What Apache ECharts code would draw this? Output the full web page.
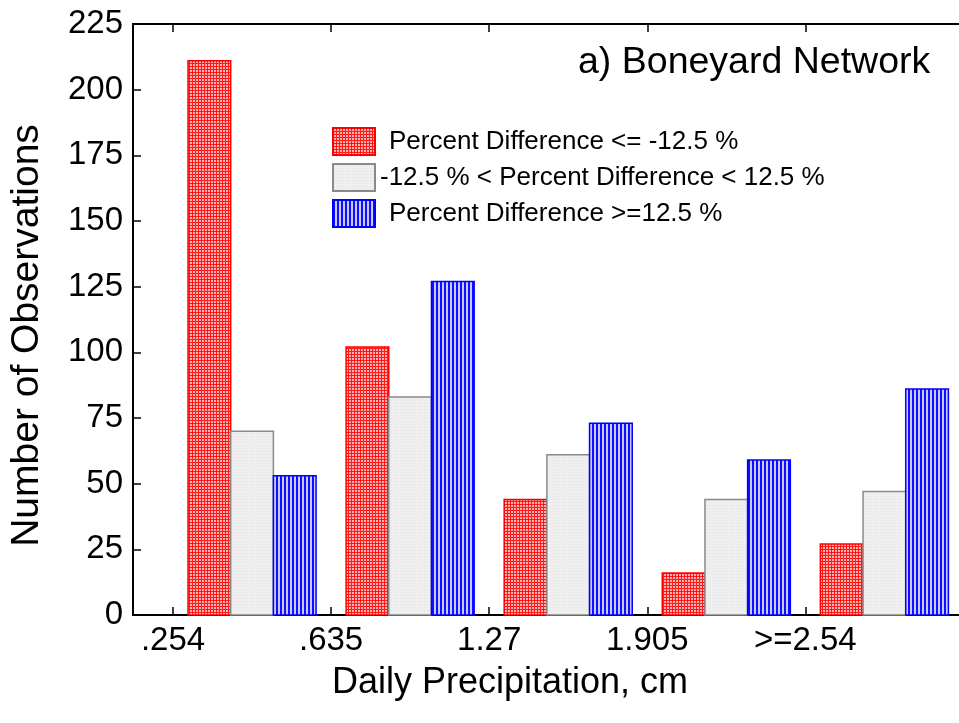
<!DOCTYPE html>
<html><head><meta charset="utf-8">
<script src="https://cdn.jsdelivr.net/npm/echarts@6/dist/echarts.min.js"></script>
<style>html,body{margin:0;padding:0;background:#fff}#c{width:959px;height:723px}</style>
</head><body><div id="c"></div>
<script>
const categories = ['.254', '.635', '1.27', '1.905', '>=2.54'];
const seriesNames = ['Percent Difference <= -12.5 %', '-12.5 % < Percent Difference < 12.5 %', 'Percent Difference >=12.5 %'];
const lowValues = [211, 102, 44, 16, 27];
const midValues = [70, 83, 61, 44, 47];
const highValues = [53, 127, 73, 59, 86];
const titleText = 'a) Boneyard Network';
const xName = 'Daily Precipitation, cm';
const yName = 'Number of Observations';

const FONT = '"Liberation Sans", Arial, sans-serif';
function makePattern(w, h, draw) {
  const c = document.createElement('canvas'); c.width = w; c.height = h;
  const ctx = c.getContext('2d'); draw(ctx);
  return { image: c, repeat: 'repeat' };
}
const redPat = makePattern(3, 3, ctx => {
  ctx.fillStyle = '#ffb0b0'; ctx.fillRect(0, 0, 3, 3);
  ctx.fillStyle = '#ff1a1a'; ctx.fillRect(0, 0, 3, 1); ctx.fillRect(0, 0, 1, 3);
});
const greyPat = makePattern(3, 3, ctx => {
  ctx.fillStyle = '#efefef'; ctx.fillRect(0, 0, 3, 3);
  ctx.fillStyle = '#e2e2e2'; ctx.fillRect(1, 1, 1, 1);
});
const bluePat = makePattern(4, 1, ctx => {
  ctx.fillStyle = '#c8c8ff'; ctx.fillRect(0, 0, 4, 1);
  ctx.fillStyle = '#1010ff'; ctx.fillRect(0, 0, 2, 1);
});

const barW = 0.27;
const offsets = [0.095, 0.365, 0.635];
const styles = [
  { color: redPat, borderColor: '#ff0000', borderWidth: 1.5 },
  { color: greyPat, borderColor: '#8a8a8a', borderWidth: 1.5 },
  { color: bluePat, borderColor: '#0000ff', borderWidth: 1.5 }
];
const valueSets = [lowValues, midValues, highValues];

function makeSeries(k) {
  return {
    type: 'custom',
    name: seriesNames[k],
    xAxisIndex: 0, yAxisIndex: 0,
    itemStyle: styles[k],
    data: valueSets[k].map((v, i) => [i, v]),
    renderItem: function (params, api) {
      const x0 = api.value(0) + offsets[k];
      const v = api.value(1);
      const p0 = api.coord([x0, 0]);
      const p1 = api.coord([x0 + barW, v]);
      return {
        type: 'rect',
        shape: { x: p0[0], y: p1[1], width: p1[0] - p0[0], height: p0[1] - p1[1] },
        style: { fill: styles[k].color, stroke: styles[k].borderColor, lineWidth: styles[k].borderWidth }
      };
    }
  };
}

const tickVals = categories.map((c, i) => i);
const chart = echarts.init(document.getElementById('c'), null, { renderer: 'canvas' });
chart.setOption({
  animation: false,
  backgroundColor: '#fff',
  textStyle: { fontFamily: FONT, color: '#000' },
  title: {
    text: titleText, left: 573, top: 39,
    textStyle: { fontFamily: FONT, fontSize: 37.5, fontWeight: 'normal', color: '#000' }
  },
  legend: {
    orient: 'vertical', left: 332, top: 127, padding: 0,
    itemWidth: 42, itemHeight: 27, itemGap: 7,
    textStyle: { fontFamily: FONT, fontSize: 26, color: '#000' },
    data: [
      { name: seriesNames[0], icon: 'rect', textStyle: { padding: [0, 0, 0, 9] } },
      { name: seriesNames[1], icon: 'rect', textStyle: { padding: [0, 0, 0, 0] } },
      { name: seriesNames[2], icon: 'rect', textStyle: { padding: [0, 0, 0, 9] } }
    ]
  },
  grid: { left: 132, right: 0, top: 24, bottom: 108, containLabel: false },
  xAxis: [{
    type: 'value', position: 'bottom', min: -0.253, max: 4.972,
    name: xName, nameLocation: 'middle', nameGap: 50,
    nameTextStyle: { fontFamily: FONT, fontSize: 36, color: '#000', padding: [0, 72, 0, 0] },
    axisLine: { onZero: false, lineStyle: { color: '#000', width: 2 } },
    axisTick: { show: true, inside: true, length: 8, customValues: tickVals, lineStyle: { color: '#000', width: 1.5 } },
    axisLabel: { show: true, customValues: tickVals, margin: 9, fontFamily: FONT, fontSize: 33, color: '#000',
      formatter: v => categories[Math.round(v)] },
    splitLine: { show: false }
  }, {
    type: 'value', position: 'top', min: -0.253, max: 4.972,
    axisLine: { onZero: false, lineStyle: { color: '#000', width: 2 } },
    axisTick: { show: true, inside: true, length: 8, customValues: tickVals, lineStyle: { color: '#000', width: 1.5 } },
    axisLabel: { show: false },
    splitLine: { show: false }
  }],
  yAxis: {
    type: 'value', min: 0, max: 225, interval: 25,
    name: yName, nameLocation: 'middle', nameGap: 86,
    nameTextStyle: { fontFamily: FONT, fontSize: 39, color: '#000', padding: [0, 32, 0, 0] },
    axisLine: { show: true, onZero: false, lineStyle: { color: '#000', width: 2 } },
    axisTick: { show: true, inside: true, length: 8, lineStyle: { color: '#000', width: 1.5 } },
    axisLabel: { margin: 10, fontFamily: FONT, fontSize: 33, color: '#000' },
    splitLine: { show: false }
  },
  series: [makeSeries(0), makeSeries(1), makeSeries(2)]
});
</script></body></html>
